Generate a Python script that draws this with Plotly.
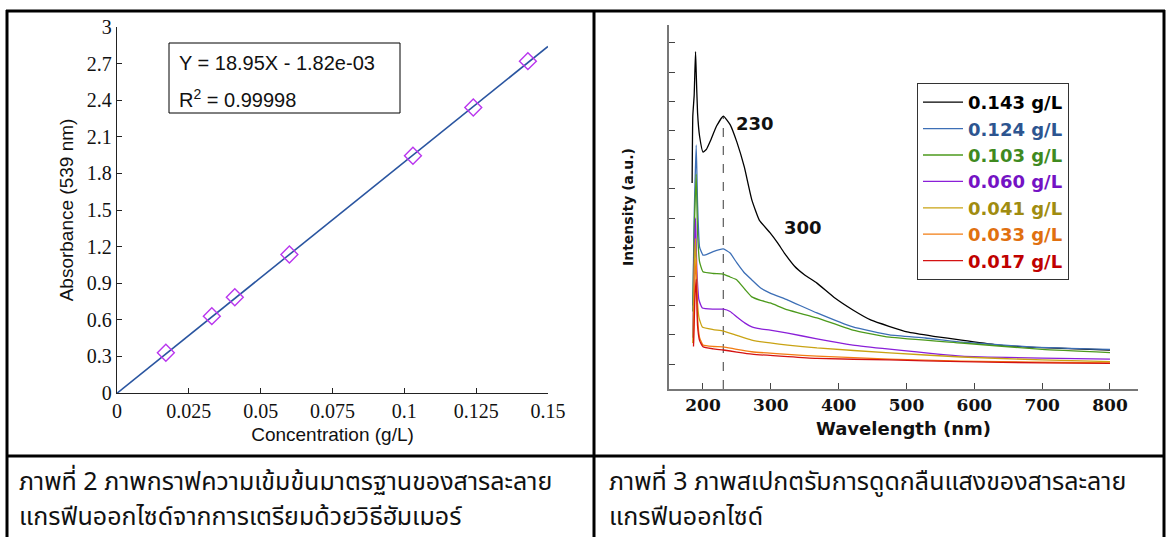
import plotly.graph_objects as go

W, H = 1167, 537

# ---------------- Left chart data (calibration) ----------------
conc = [0.017, 0.033, 0.041, 0.060, 0.103, 0.124, 0.143]
absorb = [0.33, 0.63, 0.785, 1.135, 1.945, 2.34, 2.72]
fit_x = [0.0, 0.15]
fit_slope = 18.95
fit_icpt = -1.82e-03
x_ticks_left = [0, 0.025, 0.05, 0.075, 0.1, 0.125, 0.15]
x_tick_text_left = ["0", "0.025", "0.05", "0.075", "0.1", "0.125", "0.15"]
y_ticks_left = [0, 0.3, 0.6, 0.9, 1.2, 1.5, 1.8, 2.1, 2.4, 2.7, 3]
y_tick_text_left = ["0", "0.3", "0.6", "0.9", "1.2", "1.5", "1.8", "2.1", "2.4", "2.7", "3"]

# ---------------- Right chart data (spectra) ----------------
series_names = ["0.143 g/L", "0.124 g/L", "0.103 g/L", "0.060 g/L", "0.041 g/L", "0.033 g/L", "0.017 g/L"]
line_colors = ["#000000", "#3d6fb6", "#4c9a1c", "#8a1fd8", "#c9a313", "#f27c12", "#d41212"]
text_colors = ["#000000", "#2d5590", "#3f8a1f", "#7412c4", "#a08c10", "#e07010", "#c00000"]

wl_143 = [184, 185, 187, 189, 190, 192, 195, 200, 205, 212, 220, 230, 240, 250, 261, 272, 283, 299, 310, 320, 335, 350, 368, 395, 421, 448, 501, 540, 581, 635, 700, 800]
in_143 = [7.2, 9.5, 10.2, 11.7, 11.0, 9.6, 8.8, 8.26, 8.35, 8.7, 9.15, 9.49, 9.2, 8.6, 7.74, 6.62, 5.93, 5.49, 5.15, 4.8, 4.35, 4.05, 3.77, 3.25, 2.85, 2.5, 2.10, 1.95, 1.82, 1.65, 1.56, 1.48]

wl_124 = [185, 187, 190, 192, 195, 200, 205, 215, 230, 240, 250, 260, 272, 285, 299, 325, 368, 421, 475, 528, 581, 687, 800]
in_124 = [3.0, 6.0, 8.5, 6.5, 5.0, 4.73, 4.75, 4.85, 4.94, 4.8, 4.46, 4.15, 3.88, 3.6, 3.43, 3.19, 2.75, 2.27, 2.0, 1.89, 1.75, 1.58, 1.50]

wl_103 = [185, 187, 190, 192, 195, 200, 215, 230, 240, 250, 262, 272, 285, 299, 325, 368, 421, 475, 581, 700, 800]
in_103 = [2.8, 5.5, 7.5, 5.5, 4.5, 4.16, 4.1, 4.08, 3.98, 3.88, 3.55, 3.30, 3.18, 3.09, 2.85, 2.58, 2.16, 1.92, 1.72, 1.5, 1.39]

wl_060 = [185, 187, 189, 191, 194, 199, 215, 230, 240, 250, 262, 272, 285, 299, 325, 368, 421, 475, 581, 700, 800]
in_060 = [1.9, 4.5, 6.0, 4.2, 3.2, 2.92, 2.88, 2.88, 2.8, 2.61, 2.4, 2.27, 2.2, 2.16, 2.06, 1.86, 1.65, 1.51, 1.27, 1.2, 1.17]

wl_041 = [185, 187, 189, 191, 194, 199, 215, 230, 250, 272, 299, 325, 368, 475, 581, 700, 800]
in_041 = [1.72, 4.2, 5.3, 3.5, 2.6, 2.27, 2.18, 2.13, 1.98, 1.82, 1.72, 1.65, 1.55, 1.38, 1.24, 1.14, 1.08]

wl_033 = [186, 188, 190, 192, 195, 200, 215, 230, 250, 272, 325, 368, 475, 581, 700, 800]
in_033 = [1.7, 3.8, 4.6, 2.6, 1.9, 1.65, 1.6, 1.59, 1.5, 1.42, 1.33, 1.27, 1.17, 1.1, 1.06, 1.04]

wl_017 = [186, 188, 190, 192, 195, 200, 215, 230, 250, 272, 325, 368, 475, 581, 700, 800]
in_017 = [1.6, 3.2, 3.9, 2.3, 1.8, 1.59, 1.52, 1.48, 1.41, 1.34, 1.25, 1.19, 1.14, 1.08, 1.04, 1.02]

spectra_wl = [wl_143, wl_124, wl_103, wl_060, wl_041, wl_033, wl_017]
spectra_in = [in_143, in_124, in_103, in_060, in_041, in_033, in_017]

peak_wl = 230
peak_int = 9.49
right_y_min, right_y_max = 0.144, 12.61
x_ticks_right = [200, 300, 400, 500, 600, 700, 800]
y_ticks_right = [1, 2, 3, 4, 5, 6, 7, 8, 9, 10, 11, 12]

caption_left = ["ภาพที่ 2 ภาพกราฟความเข้มข้นมาตรฐานของสารละลาย", "แกรฟีนออกไซด์จากการเตรียมด้วยวิธีฮัมเมอร์"]
caption_right = ["ภาพที่ 3 ภาพสเปกตรัมการดูดกลืนแสงของสารละลาย", "แกรฟีนออกไซด์"]


def px(x):
    return x / W


def py(y):
    return 1 - y / H


fig = go.Figure()

# ---- left: fit line + points ----
fit_y = [fit_slope * x + fit_icpt for x in fit_x]
fig.add_trace(go.Scatter(x=fit_x, y=fit_y, mode="lines", line=dict(color="#2a55a0", width=1.6),
                         showlegend=False, xaxis="x", yaxis="y"))
fig.add_trace(go.Scatter(x=conc, y=absorb, mode="markers",
                         marker=dict(symbol="diamond-open", size=13, color="#b936ee", line=dict(width=1.4)),
                         showlegend=False, xaxis="x", yaxis="y"))

# ---- right: spectra ----
fig.add_trace(go.Scatter(x=[peak_wl, peak_wl], y=[right_y_min, peak_int], mode="lines",
                         line=dict(color="#666666", width=1.3, dash="dash"), showlegend=False,
                         xaxis="x2", yaxis="y2"))
for name, c, tc, wl, it in zip(series_names, line_colors, text_colors, spectra_wl, spectra_in):
    fig.add_trace(go.Scatter(x=wl, y=it, mode="lines", line=dict(color=c, width=1.3, shape="spline", smoothing=0.4),
                             name=f"<span style='color:{tc}'>{name}</span>",
                             xaxis="x2", yaxis="y2"))

serif = "Liberation Serif, Times New Roman, serif"
sans = "Liberation Sans, Arial, sans-serif"
wide = "DejaVu Sans, Verdana, sans-serif"
wide_serif = "DejaVu Serif, Georgia, serif"

fig.update_layout(
    width=W, height=H, margin=dict(l=0, r=0, t=0, b=0, autoexpand=False),
    paper_bgcolor="white", plot_bgcolor="white",
    xaxis=dict(domain=[px(117), px(548)], range=[0, 0.15], tickvals=x_ticks_left, ticktext=x_tick_text_left,
               ticks="inside", ticklen=5, tickcolor="#222", showline=True, linecolor="#222", linewidth=1.3,
               showgrid=False, zeroline=False, tickfont=dict(family=serif, size=20, color="#111"),
               title=dict(text="Concentration (g/L)", font=dict(family=sans, size=19, color="#111"), standoff=6),
               anchor="y", automargin=False),
    yaxis=dict(domain=[py(393), py(27)], range=[0, 3], tickvals=y_ticks_left, ticktext=y_tick_text_left,
               ticks="inside", ticklen=5, tickcolor="#222", showline=True, linecolor="#222", linewidth=1.3,
               showgrid=False, zeroline=False, tickfont=dict(family=serif, size=20, color="#111"),
               title=dict(text="Absorbance (539 nm)", font=dict(family=sans, size=19, color="#111"), standoff=8),
               anchor="x", automargin=False),
    xaxis2=dict(domain=[px(669), px(1138)], range=[149.9, 841.3], tickvals=x_ticks_right,
                ticks="inside", ticklen=6, tickcolor="#444", showline=True, linecolor="#777", linewidth=1.5,
                showgrid=False, zeroline=False,
                tickfont=dict(family=wide_serif, size=17, color="#111", weight="bold"),
                title=dict(text="Wavelength (nm)", font=dict(family=wide, size=18, color="#111", weight="bold"),
                           standoff=8),
                anchor="y2", automargin=False),
    yaxis2=dict(domain=[py(389), py(25)], range=[right_y_min, right_y_max], tickvals=y_ticks_right,
                showticklabels=False, ticks="inside", ticklen=6, tickcolor="#444", showline=True,
                linecolor="#777", linewidth=1.5, showgrid=False, zeroline=False,
                title=dict(text="Intensity (a.u.)", font=dict(family=wide, size=14, color="#111", weight="bold"),
                           standoff=30),
                anchor="x2", automargin=False),
    legend=dict(x=px(917), y=py(83), xanchor="left", yanchor="top", bgcolor="white",
                bordercolor="#333", borderwidth=1, font=dict(family=wide, size=18, weight="bold"),
                tracegroupgap=0, itemwidth=40),
    showlegend=True,
)

shapes = []
lw = 3
# table borders
shapes.append(dict(type="line", xref="paper", yref="paper", x0=px(6), x1=px(1165), y0=py(11), y1=py(11),
                   line=dict(color="black", width=lw)))
shapes.append(dict(type="line", xref="paper", yref="paper", x0=px(6), x1=px(1165), y0=py(456), y1=py(456),
                   line=dict(color="black", width=lw)))
for xx in [7, 594, 1164]:
    shapes.append(dict(type="line", xref="paper", yref="paper", x0=px(xx), x1=px(xx), y0=py(10), y1=py(540),
                       line=dict(color="black", width=lw)))
# equation box
shapes.append(dict(type="rect", xref="paper", yref="paper", x0=px(169), x1=px(400), y0=py(113), y1=py(43),
                   line=dict(color="black", width=1), fillcolor="white"))
fig.update_layout(shapes=shapes)

ann = []
ann.append(dict(xref="paper", yref="paper", x=px(177), y=py(63), xanchor="left", yanchor="middle",
                text="Y = 18.95X - 1.82e-03", showarrow=False, font=dict(family=sans, size=20, color="#111")))
ann.append(dict(xref="paper", yref="paper", x=px(177), y=py(99), xanchor="left", yanchor="middle",
                text="R<sup>2</sup> = 0.99998", showarrow=False, font=dict(family=sans, size=20, color="#111")))
ann.append(dict(xref="x2", yref="y2", x=277, y=9.25, text="230", showarrow=False,
                font=dict(family=wide, size=18, color="#111", weight="bold")))
ann.append(dict(xref="x2", yref="y2", x=347, y=5.69, text="300", showarrow=False,
                font=dict(family=wide, size=18, color="#111", weight="bold")))
thai = "Noto Sans Thai, Noto Sans Thai Looped, Tahoma, DejaVu Sans, sans-serif"
for i, line in enumerate(caption_left):
    ann.append(dict(xref="paper", yref="paper", x=px(17), y=py(482 + 35 * i), xanchor="left", yanchor="middle",
                    text=line, showarrow=False, font=dict(family=thai, size=25, color="#111")))
for i, line in enumerate(caption_right):
    ann.append(dict(xref="paper", yref="paper", x=px(607), y=py(482 + 35 * i), xanchor="left", yanchor="middle",
                    text=line, showarrow=False, font=dict(family=thai, size=25, color="#111")))
fig.update_layout(annotations=ann)

fig.write_html("out.html")
